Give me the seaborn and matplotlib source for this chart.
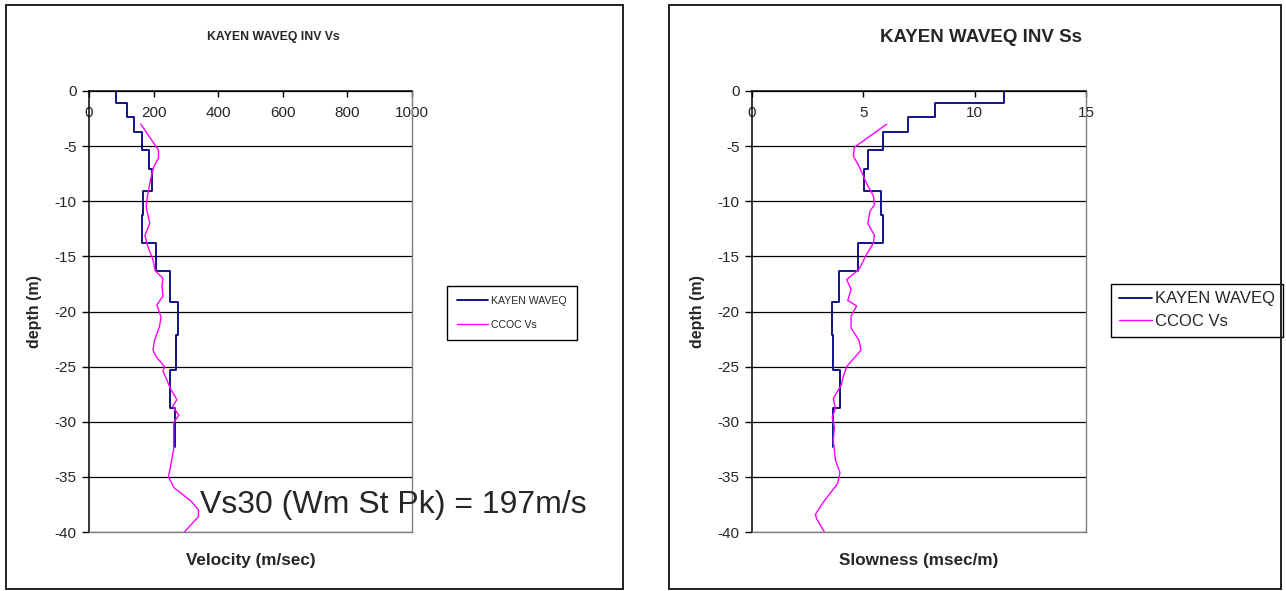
import numpy as np
import pandas as pd
import matplotlib
matplotlib.use("Agg")
import matplotlib.pyplot as plt
import seaborn as sns
from matplotlib.patches import Rectangle

# ---------------- data ----------------
layer_depth = [0, 1.1, 2.4, 3.7, 5.35, 7.1, 9.05, 11.25, 13.75, 16.35, 19.15, 22.15, 25.3, 28.75, 32.3]
kayen_vs = [83, 119, 138, 165, 187, 194, 168, 165, 206, 250, 275, 268, 250, 265]
kayen_ss = [11.3, 8.2, 7.0, 5.9, 5.2, 5.05, 5.8, 5.9, 4.75, 3.9, 3.6, 3.65, 3.95, 3.65]

ccoc_vs_depth = [3.0, 5.35, 6.1, 6.9, 8.1, 9.7, 10.5, 12.0, 13.1, 14.1, 15.3, 16.3, 17.0, 17.7,
                 18.6, 19.4, 20.5, 21.4, 22.6, 23.5, 24.1, 25.0, 25.4, 27.1, 28.0, 28.6, 29.4,
                 30.1, 32.5, 33.8, 35.0, 36.0, 37.2, 38.0, 38.6, 40.0]
ccoc_vs = [160, 215, 215, 200, 190, 180, 177, 188, 173, 182, 198, 205, 229, 226,
           229, 210, 223, 218, 203, 198, 208, 234, 229, 254, 272, 259, 278,
           262, 262, 254, 246, 264, 316, 339, 339, 295]

ccoc_ss_depth = [3.0, 5.1, 5.9, 6.8, 7.7, 8.6, 9.5, 10.3, 10.9, 12.0, 13.1, 13.8, 14.8, 16.2,
                 17.1, 18.0, 19.0, 19.5, 20.4, 21.5, 22.6, 23.5, 25.0, 25.9, 26.7, 27.9, 28.8,
                 29.6, 30.5, 31.7, 33.5, 34.6, 35.6, 37.3, 38.4, 38.8, 40.0]
ccoc_ss = [6.05, 4.6, 4.55, 4.8, 5.0, 5.2, 5.45, 5.5, 5.3, 5.2, 5.5, 5.45, 5.15, 4.8,
           4.25, 4.45, 4.3, 4.7, 4.45, 4.45, 4.8, 4.9, 4.25, 4.1, 4.0, 3.65, 3.75,
           3.6, 3.7, 3.65, 3.75, 3.95, 3.85, 3.2, 2.85, 2.9, 3.25]

depth_ticks = [-40, -35, -30, -25, -20, -15, -10, -5, 0]
vs_ticks = [0, 200, 400, 600, 800, 1000]
ss_ticks = [0, 5, 10, 15]

titles = ["KAYEN WAVEQ INV Vs", "KAYEN WAVEQ INV Ss"]
xlabels = ["Velocity (m/sec)", "Slowness (msec/m)"]
ylabel = "depth (m)"
series_names = ["KAYEN WAVEQ", "CCOC Vs"]
note = "Vs30 (Wm St Pk) = 197m/s"

BLUE = "#000080"
PINK = "#FF00FF"


def step_frame(tops, vals):
    xs, ys = [], []
    for i, v in enumerate(vals):
        xs += [v, v]
        ys += [-tops[i], -tops[i + 1]]
    return pd.DataFrame({"x": xs, "y": ys})


sns.set_style("white")
plt.rcParams["font.family"] = ["Liberation Sans", "DejaVu Sans"]

fig = plt.figure(figsize=(12.86, 5.91), dpi=100)

W, H = 1286.0, 591.0


def px_axes(x0, x1, y0, y1):
    return fig.add_axes([x0 / W, 1 - y1 / H, (x1 - x0) / W, (y1 - y0) / H])


ax1 = px_axes(89, 412, 91, 532)
ax2 = px_axes(752, 1086, 91, 532)

# panel borders
for (x0, x1) in [(6, 623), (669, 1281)]:
    fig.add_artist(Rectangle((x0 / W, 1 - 589 / H), (x1 - x0) / W, (589 - 5) / H,
                             transform=fig.transFigure, fill=False, ec="#202020", lw=1.4))

configs = [
    (ax1, kayen_vs, ccoc_vs_depth, ccoc_vs, (0, 1000), vs_ticks, 0),
    (ax2, kayen_ss, ccoc_ss_depth, ccoc_ss, (0, 15), ss_ticks, 1),
]

for ax, kv, cd, cv, xlim, xt, i in configs:
    sf = step_frame(layer_depth, kv)
    sns.lineplot(data=sf, x="x", y="y", sort=False, estimator=None, color=BLUE,
                 lw=1.3, ax=ax, label=series_names[0])
    cf = pd.DataFrame({"x": cv, "y": [-d for d in cd]})
    sns.lineplot(data=cf, x="x", y="y", sort=False, estimator=None, color=PINK,
                 lw=1.0, ax=ax, label=series_names[1])
    ax.set_xlim(*xlim)
    ax.set_ylim(-40, 0)
    ax.set_xticks(xt)
    ax.set_xticklabels([str(t) for t in xt])
    ax.set_yticks(depth_ticks)
    ax.set_yticklabels([str(t) for t in depth_ticks])
    ax.yaxis.grid(True, color="black", lw=0.9)
    ax.xaxis.grid(False)
    ax.set_axisbelow(True)
    ax.xaxis.set_ticks_position("top")
    ax.xaxis.set_label_position("bottom")
    ax.tick_params(axis="x", direction="in", length=4, width=1, color="black",
                   labelsize=11, pad=-21, top=True, bottom=False,
                   labeltop=True, labelbottom=False)
    ax.tick_params(axis="y", direction="out", length=5, width=1, color="black",
                   labelsize=11, pad=4, left=True)
    for s in ["left", "top"]:
        ax.spines[s].set_color("black")
        ax.spines[s].set_linewidth(1.1)
    for s in ["right", "bottom"]:
        ax.spines[s].set_color("#808080")
        ax.spines[s].set_linewidth(1.0)
    ax.set_xlabel(xlabels[i], fontsize=12.3, fontweight="bold", labelpad=15)
    ax.set_ylabel(ylabel, fontsize=11.5, fontweight="bold", labelpad=9)
    ax.get_legend().remove()

# titles (centred on the chart panels)
fig.text(273 / W, 1 - 37 / H, titles[0], ha="center", va="center", fontsize=8.8,
         fontweight="bold")
fig.text(981 / W, 1 - 37 / H, titles[1], ha="center", va="center", fontsize=13.5,
         fontweight="bold")

# legends
h1, l1 = ax1.get_legend_handles_labels()
leg1 = ax1.legend(h1, l1, loc="upper left", bbox_to_anchor=(447 / W, 1 - 286 / H),
                  bbox_transform=fig.transFigure, frameon=True, fancybox=False,
                  edgecolor="black", framealpha=1, fontsize=7.6,
                  handlelength=2.9, handletextpad=0.35, borderpad=0.95, labelspacing=1.3,
                  borderaxespad=0)
leg1.get_frame().set_linewidth(1.0)

h2, l2 = ax2.get_legend_handles_labels()
leg2 = ax2.legend(h2, l2, loc="upper left", bbox_to_anchor=(1111 / W, 1 - 284 / H),
                  bbox_transform=fig.transFigure, frameon=True, fancybox=False,
                  edgecolor="black", framealpha=1, fontsize=12,
                  handlelength=2.0, handletextpad=0.2, borderpad=0.45, labelspacing=0.45,
                  borderaxespad=0)
leg2.get_frame().set_linewidth(1.0)

ax1.text(343, -38.3, note, fontsize=23, va="baseline", ha="left")

fig.savefig("out.png", dpi=100)
